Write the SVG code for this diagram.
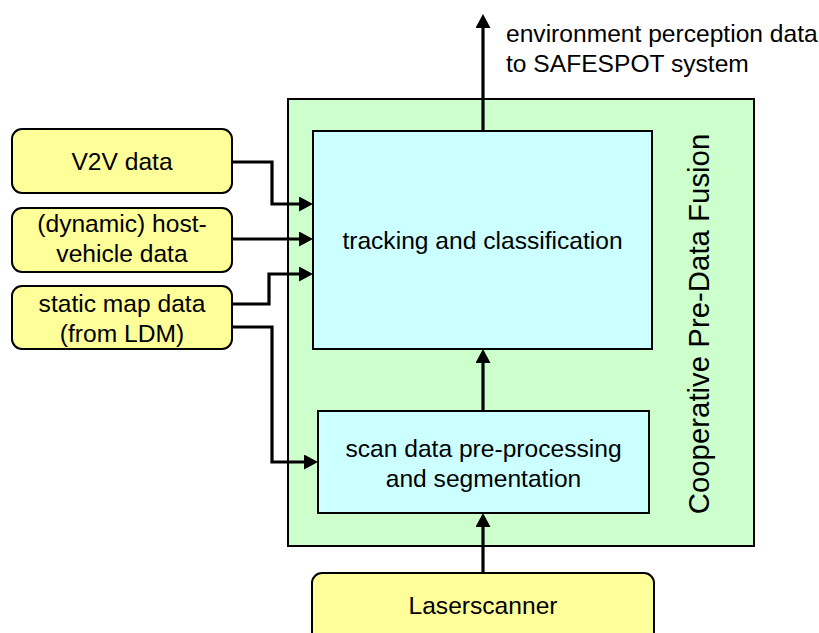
<svg xmlns="http://www.w3.org/2000/svg" width="819" height="633" viewBox="0 0 819 633">
<style>
text{font-family:"Liberation Sans",Arial,sans-serif;font-size:24.6px;fill:#000}
.c{text-anchor:middle}
.in{fill:#FFFF99;stroke:#000;stroke-width:2}
.proc{fill:#CCFFFF;stroke:#000;stroke-width:2}
.grp{fill:#CCFFCC;stroke:#000;stroke-width:2}
.con{fill:none;stroke:#000;stroke-width:3.2;stroke-linejoin:miter}
</style>
<defs>
<marker id="ah" markerUnits="userSpaceOnUse" markerWidth="15" markerHeight="15" refX="4" refY="7.5" orient="auto">
<path d="M0,0 L14,7.5 L0,15 z" fill="#000"/>
</marker>
</defs>
<rect width="819" height="633" fill="#fff"/>
<g id="fusion">
<rect class="grp" x="288" y="99" width="466" height="447"/>
<text transform="translate(709,324) rotate(-90)" class="c" style="font-size:29.4px">Cooperative Pre-Data Fusion</text>
</g>
<g id="tracking">
<rect class="proc" x="313" y="131" width="339" height="218"/>
<text class="c" x="482.5" y="249">tracking and classification</text>
</g>
<g id="scan">
<rect class="proc" x="318" y="411" width="331" height="102"/>
<text class="c" x="483.5" y="457">scan data pre-processing</text>
<text class="c" x="483.5" y="487">and segmentation</text>
</g>
<g id="v2v">
<rect class="in" x="12" y="129" width="220" height="64" rx="10"/>
<text class="c" x="122" y="170">V2V data</text>
</g>
<g id="host">
<rect class="in" x="12" y="208" width="220" height="64" rx="10"/>
<text class="c" x="122" y="232">(dynamic) host-</text>
<text class="c" x="122" y="262">vehicle data</text>
</g>
<g id="map">
<rect class="in" x="12" y="286" width="220" height="63" rx="10"/>
<text class="c" x="122" y="312">static map data</text>
<text class="c" x="122" y="342">(from LDM)</text>
</g>
<g id="laser">
<rect class="in" x="312" y="573" width="342" height="75" rx="10"/>
<text class="c" x="483" y="614">Laserscanner</text>
</g>
<g id="output">
<text x="506" y="42">environment perception data</text>
<text x="506" y="72">to SAFESPOT system</text>
</g>
<g id="connectors">
<path class="con" d="M232,162 H272 V204 H303" marker-end="url(#ah)"/>
<path class="con" d="M232,239 H303" marker-end="url(#ah)"/>
<path class="con" d="M232,304 H269 V274 H303" marker-end="url(#ah)"/>
<path class="con" d="M232,327 H272 V462 H308" marker-end="url(#ah)"/>
<path class="con" d="M483,411 V359" marker-end="url(#ah)"/>
<path class="con" d="M483,573 V523" marker-end="url(#ah)"/>
<path class="con" d="M483,131 V24" marker-end="url(#ah)"/>
</g>
</svg>
